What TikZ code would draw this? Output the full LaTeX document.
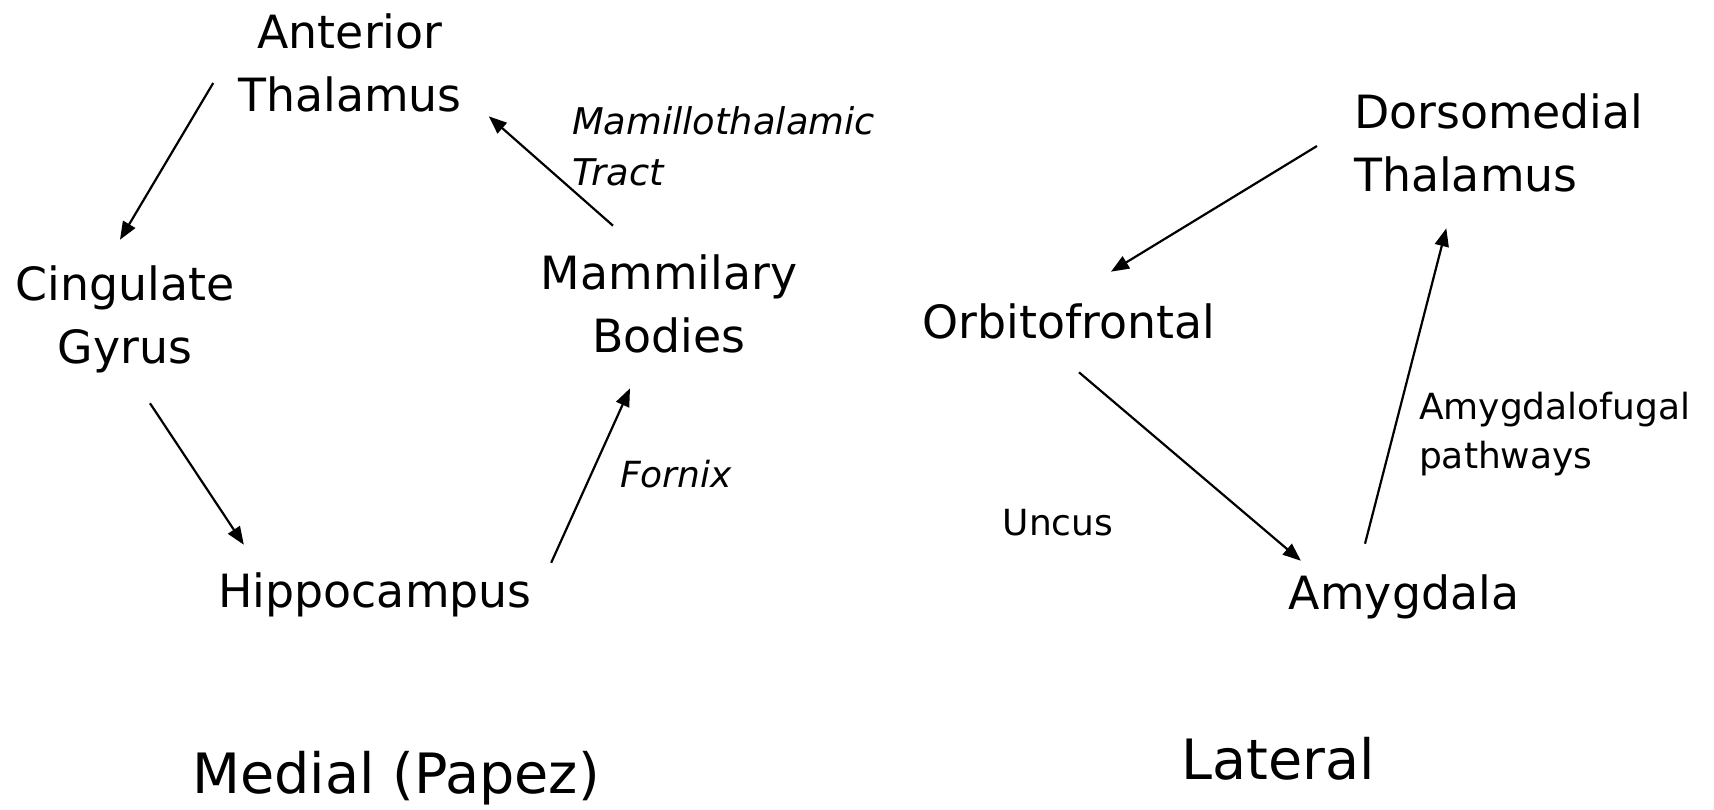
\documentclass[tikz,border=0pt]{standalone}
\usepackage{fontspec}
\setmainfont{DejaVu Sans}
\usepackage{tikz}
\usetikzlibrary{arrows.meta}

\begin{document}
\begin{tikzpicture}[%
        x=0.5pt, y=-0.5pt,
        ->,
        >={Triangle[length=9pt,width=7pt]},
        line width=1.1pt,
        area/.style={%
          align=center,
          inner sep=0pt,
          font=\fontsize{22.9}{31.5}\selectfont
        },
        tract/.style={%
          align=left,
          inner sep=0pt,
          font=\fontsize{18}{24.5}\selectfont
        },
        heading/.style={%
          inner sep=0pt,
          font=\fontsize{27.8}{34}\selectfont
        }
      ]
      \useasboundingbox (0,0) rectangle (1714,809);

      % medial circuit
      \node[area] (ant) at (350,63) {Anterior\\Thalamus};
      \node[area] (cing) at (125,319) {Cingulate\\Gyrus};
      \node[area] (hip) at (375,595) {Hippocampus};
      \node[area] (mam) at (669,304) {Mammilary\\Bodies};
      \node[tract, anchor=west, font=\fontsize{18.4}{25.5}\selectfont\itshape] (mtt) at (571,146) {Mamillothalamic\\Tract};
      \node[tract, font=\fontsize{18}{24.5}\selectfont\itshape] (fornix) at (676,474) {Fornix};
      \node[heading] (medial) at (396,778) {Medial (Papez)};

      % lateral circuit
      \node[area, anchor=west, align=left] (dors) at (1353,143) {Dorsomedial\\Thalamus};
      \node[area] (orb) at (1069,321) {Orbitofrontal};
      \node[area] (amy) at (1404,597) {Amygdala};
      \node[tract] (uncus) at (1058,523) {Uncus};
      \node[tract, anchor=west] (afug) at (1418,434) {Amygdalofugal\\pathways};
      \node[heading] (lateral) at (1278,759) {Lateral};

      \path ([shift={(-24,20)}]ant.west) edge ([shift={(-5,-24.5)}]cing.north)
      ([shift={(25,29.5)}]cing.south) edge ([shift={(26.5,-27)}]hip.north west)
      ([shift={(18.5,-9)}]hip.north east) edge ([shift={(-39,34)}]mam.south)
      ([shift={(-56,-28)}]mam.north) edge ([shift={(26,3)}]ant.south east);

      \path ([shift={(-36,3)}]dors.west) edge ([shift={(42,-30.5)}]orb.north)
      ([shift={(10,32.5)}]orb.south) edge ([shift={(13,-13)}]amy.north west)
      ([shift={(-39,-30)}]amy.north) edge ([shift={(-52.5,35)}]dors.south);

  \end{tikzpicture}
\end{document}
